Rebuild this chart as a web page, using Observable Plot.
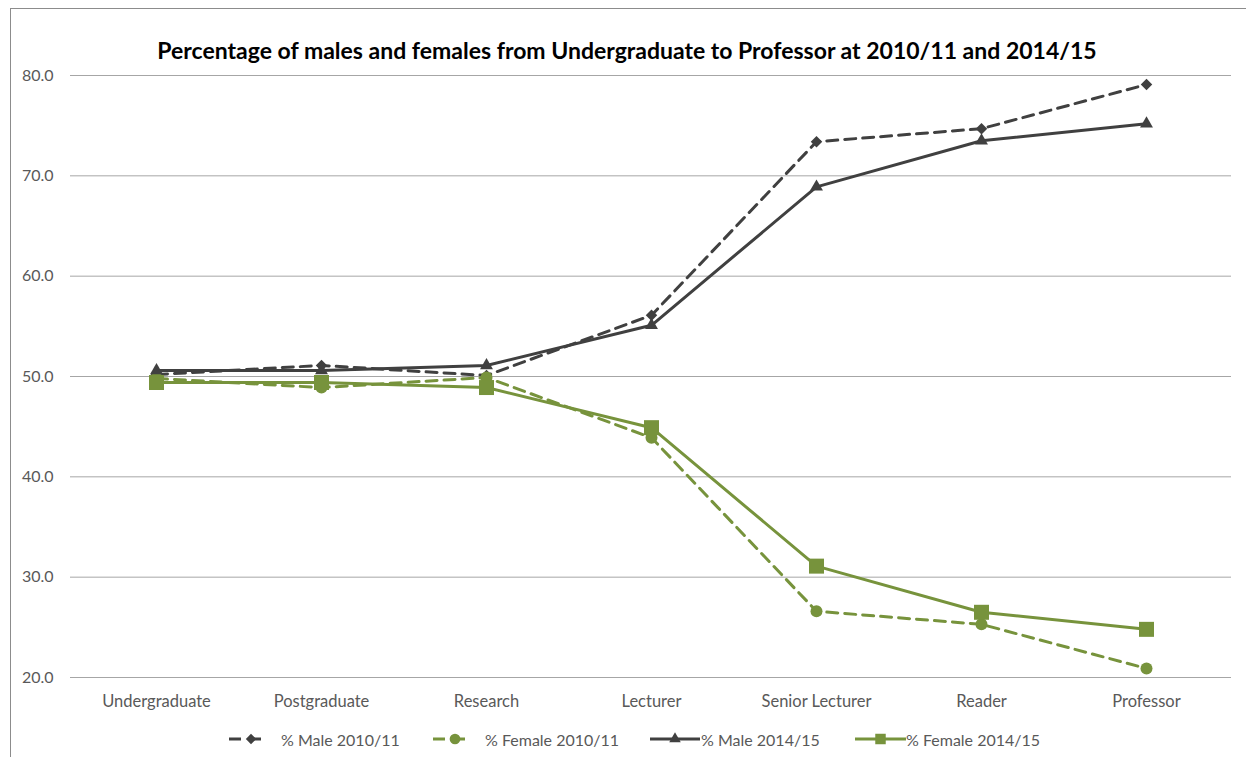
<!DOCTYPE html>
<html>
<head>
<meta charset="utf-8">
<script src="https://cdn.jsdelivr.net/npm/d3@7"></script>
<script src="https://cdn.jsdelivr.net/npm/@observablehq/plot@0.6"></script>
<style>
  html, body { margin: 0; padding: 0; background: #fff; }
  #wrap { position: relative; width: 1246px; height: 757px; overflow: hidden; background: #fff; font-family: Lato, "Open Sans", sans-serif; }
  #frame { position: absolute; left: 10px; top: 8px; width: 1300px; height: 800px; border: 1.5px solid #8c8c8c; box-sizing: border-box; }
  #title { position: absolute; left: 0; width: 1254px; top: 35px; text-align: center; font-weight: bold; font-size: 23px; color: #000; line-height: 30px; }
  #chart { position: absolute; left: 0; top: 0; }
  #legend { position: absolute; top: 728px; left: 0; width: 1246px; height: 22px; font-size: 16px; color: #595959; }
  .item { position: absolute; top: 0; display: flex; align-items: center; height: 22px; white-space: nowrap; }
  .item svg { display: block; }
</style>
</head>
<body>
<div id="wrap">
  <div id="frame"></div>
  <div id="chart"></div>
  <div id="title">Percentage of males and females from Undergraduate to Professor at 2010/11 and 2014/15</div>
  <div id="legend"></div>
</div>
<script>
const categories = ["Undergraduate", "Postgraduate", "Research", "Lecturer", "Senior Lecturer", "Reader", "Professor"];
const male2010   = [50.2, 51.1, 50.1, 56.1, 73.4, 74.7, 79.1];
const female2010 = [49.8, 48.9, 49.9, 43.9, 26.6, 25.3, 20.9];
const male2014   = [50.6, 50.6, 51.1, 55.1, 68.9, 73.5, 75.2];
const female2014 = [49.4, 49.4, 48.9, 44.9, 31.1, 26.5, 24.8];
const seriesNames = ["% Male 2010/11", "% Female 2010/11", "% Male 2014/15", "% Female 2014/15"];
const yTicks = [20, 30, 40, 50, 60, 70, 80];

const DARK = "#404040", GREEN = "#77933c";
const styles = [
  {name: seriesNames[0], values: male2010,   color: DARK,  dash: "11,7", symbol: "diamond2", r: 5.2},
  {name: seriesNames[1], values: female2010, color: GREEN, dash: "11,7", symbol: "circle",   r: 6},
  {name: seriesNames[2], values: male2014,   color: DARK,  dash: null,   symbol: "triangle", r: 4.8},
  {name: seriesNames[3], values: female2014, color: GREEN, dash: null,   symbol: "square",   r: 4.2}
];

const marks = [
  Plot.ruleY(yTicks, {stroke: "#a6a6a6", strokeWidth: 1}),
  Plot.axisY({ticks: yTicks, tickFormat: d3.format(".1f"), tickSize: 0, tickPadding: 17, fontSize: 16, fill: "#595959", label: null}),
  Plot.axisX({tickSize: 0, tickPadding: 18, fontSize: 16.5, fill: "#595959", label: null})
];
for (const s of styles) {
  const rows = categories.map((c, i) => ({cat: c, v: s.values[i], series: s.name}));
  marks.push(Plot.line(rows, {x: "cat", y: "v", stroke: s.color, strokeWidth: 3, strokeDasharray: s.dash || undefined, strokeLinejoin: "round"}));
  const side = s.symbol === "square" ? 15 : null;
  marks.push(Plot.dot(rows, {x: "cat", y: "v", symbol: s.symbol, fill: s.color, stroke: "none", r: side ? side / Math.sqrt(Math.PI) : s.r}));
}

const chart = Plot.plot({
  width: 1246,
  height: 757,
  marginTop: 75,
  marginBottom: 80,
  marginLeft: 70,
  marginRight: 15,
  style: {background: "transparent", fontFamily: "Lato, 'Open Sans', sans-serif"},
  x: {type: "point", domain: categories, padding: 0.5, label: null},
  y: {domain: [20, 80], label: null},
  marks
});
document.getElementById("chart").appendChild(chart);

// legend
const legend = document.getElementById("legend");
const legendPos = [
  {sx: 229, sw: 40, tx: 281},
  {sx: 433, sw: 40, tx: 485},
  {sx: 650, sw: 50, tx: 701},
  {sx: 855, sw: 51, tx: 906}
];
styles.forEach((s, i) => {
  const p = legendPos[i];
  const sw = document.createElementNS("http://www.w3.org/2000/svg", "svg");
  sw.setAttribute("width", p.sw); sw.setAttribute("height", 22);
  sw.style.position = "absolute"; sw.style.left = p.sx + "px"; sw.style.top = "0px";
  const ln = document.createElementNS(sw.namespaceURI, "path");
  ln.setAttribute("d", `M0,11H${p.sw}`);
  ln.setAttribute("stroke", s.color); ln.setAttribute("stroke-width", 3);
  if (s.dash) ln.setAttribute("stroke-dasharray", "12,8");
  sw.appendChild(ln);
  const sym = {diamond2: d3.symbolDiamond2, circle: d3.symbolCircle, triangle: d3.symbolTriangle, square: d3.symbolSquare}[s.symbol];
  const size = s.symbol === "square" ? 110 : (Math.PI * s.r * s.r) * 0.8;
  const mk = document.createElementNS(sw.namespaceURI, "path");
  mk.setAttribute("d", d3.symbol(sym, size)());
  mk.setAttribute("transform", `translate(${p.sw / 2 + (s.dash ? 2 : 0)},11)`);
  mk.setAttribute("fill", s.color);
  sw.appendChild(mk);
  legend.appendChild(sw);
  const t = document.createElement("div");
  t.className = "item"; t.style.left = p.tx + "px"; t.textContent = s.name;
  legend.appendChild(t);
});
</script>
</body>
</html>
